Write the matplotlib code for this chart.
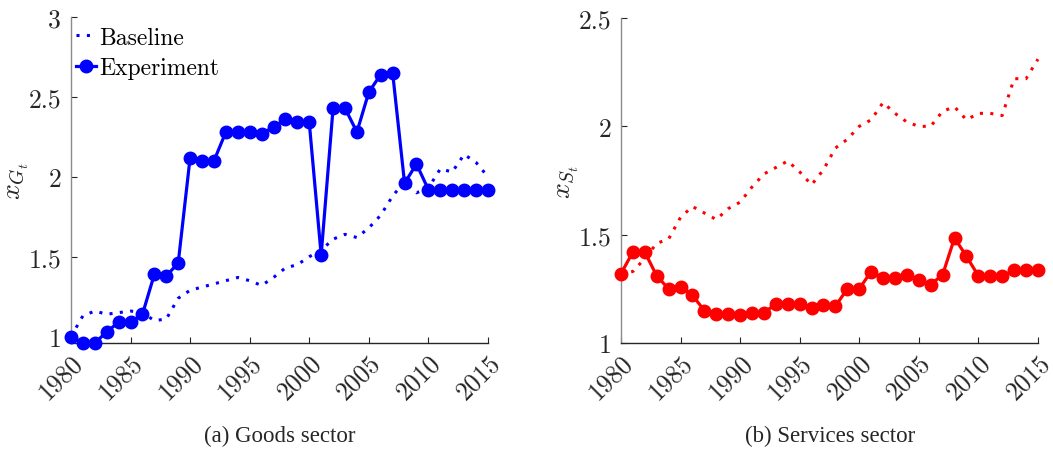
import matplotlib
matplotlib.use("Agg")
import matplotlib.pyplot as plt

plt.rcParams["mathtext.fontset"] = "cm"
plt.rcParams["font.family"] = ["cmr10", "DejaVu Serif"]
plt.rcParams["axes.unicode_minus"] = False

years = list(range(1980, 2016))

goods_baseline = [1.00, 1.13, 1.16, 1.14, 1.15, 1.16, 1.15, 1.10, 1.11, 1.24,
                  1.29, 1.31, 1.33, 1.35, 1.37, 1.35, 1.32, 1.37, 1.43, 1.45,
                  1.50, 1.54, 1.61, 1.64, 1.62, 1.68, 1.76, 1.88, 1.97, 1.90,
                  1.93, 2.05, 2.03, 2.14, 2.09, 2.00]
goods_experiment = [1.00, 0.96, 0.96, 1.03, 1.09, 1.09, 1.14, 1.39, 1.38, 1.46,
                    2.12, 2.10, 2.10, 2.28, 2.28, 2.28, 2.27, 2.31, 2.36, 2.34,
                    2.34, 1.51, 2.43, 2.43, 2.28, 2.53, 2.64, 2.65, 1.96, 2.08,
                    1.92, 1.92, 1.92, 1.92, 1.92, 1.92]

services_baseline = [1.32, 1.33, 1.39, 1.46, 1.48, 1.58, 1.63, 1.60, 1.57, 1.62,
                     1.65, 1.72, 1.78, 1.81, 1.84, 1.79, 1.73, 1.80, 1.90, 1.94,
                     2.00, 2.03, 2.11, 2.06, 2.02, 2.00, 2.00, 2.07, 2.09, 2.03,
                     2.06, 2.06, 2.05, 2.22, 2.22, 2.31]
services_experiment = [1.32, 1.42, 1.42, 1.31, 1.25, 1.26, 1.22, 1.15, 1.135, 1.135,
                       1.13, 1.14, 1.14, 1.18, 1.18, 1.18, 1.16, 1.175, 1.17, 1.25,
                       1.25, 1.33, 1.30, 1.30, 1.315, 1.29, 1.27, 1.315, 1.485, 1.40,
                       1.31, 1.31, 1.31, 1.335, 1.335, 1.335]

xticks = [1980, 1985, 1990, 1995, 2000, 2005, 2010, 2015]
goods_yticks = [1, 1.5, 2, 2.5, 3]
goods_yticklabels = ["1", "1.5", "2", "2.5", "3"]
services_yticks = [1, 1.5, 2, 2.5]
services_yticklabels = ["1", "1.5", "2", "2.5"]

fig = plt.figure(figsize=(10.53, 4.56), dpi=100)
ax1 = fig.add_axes([0.0674, 0.2456, 0.396, 0.7149])
ax2 = fig.add_axes([0.5897, 0.2456, 0.396, 0.7127])

dot = (0, (1, 2.4))
text_c = "#262626"


def style(ax, yticks, yticklabels, ylim, ylabel):
    ax.set_xlim(1980, 2015)
    ax.set_ylim(*ylim)
    ax.set_xticks(xticks)
    ax.set_xticklabels([str(t) for t in xticks], rotation=45, ha="right",
                       rotation_mode="anchor", fontsize=18.5, color=text_c)
    ax.set_yticks(yticks)
    ax.set_yticklabels(yticklabels, fontsize=18.5, color=text_c)
    ax.tick_params(direction="in", length=4, width=0.8, colors=text_c)
    ax.tick_params(axis="x", pad=5)
    ax.tick_params(axis="y", pad=7)
    for s in ("top", "right"):
        ax.spines[s].set_visible(False)
    ax.spines["left"].set_color("#8a8a8a")
    ax.spines["left"].set_linewidth(1.0)
    ax.spines["bottom"].set_color(text_c)
    ax.spines["bottom"].set_linewidth(1.0)
    ax.set_ylabel(ylabel, fontsize=20, color=text_c)
    ax.yaxis.set_label_coords(-0.096, 0.5)


ax1.plot(years, goods_baseline, color=(0, 0, 1), lw=2.2, linestyle=dot,
         label="Baseline", clip_on=False)
ax1.plot(years, goods_experiment, color=(0, 0, 1), lw=2.3, marker="o", ms=9,
         label="Experiment", clip_on=False, zorder=3)
style(ax1, goods_yticks, goods_yticklabels, (0.96, 3), r"$x_{G_t}$")
ax1.legend(loc="upper left", frameon=False, fontsize=17, handlelength=0.85,
           handletextpad=0.15, borderaxespad=0.0, labelspacing=0.35,
           borderpad=0.2, bbox_to_anchor=(0.0, 0.985))

ax2.plot(years, services_baseline, color=(1, 0, 0), lw=2.2, linestyle=dot,
         clip_on=False)
ax2.plot(years, services_experiment, color=(1, 0, 0), lw=2.3, marker="o", ms=9,
         clip_on=False, zorder=3)
style(ax2, services_yticks, services_yticklabels, (1, 2.5), r"$x_{S_t}$")

fig.text(0.2656, 0.042, "(a) Goods sector", ha="center", va="center",
         fontsize=16.5, family=["Liberation Serif"], color=text_c)
fig.text(0.7879, 0.042, "(b) Services sector", ha="center", va="center",
         fontsize=16.5, family=["Liberation Serif"], color=text_c)

fig.savefig("out.png", dpi=100)
